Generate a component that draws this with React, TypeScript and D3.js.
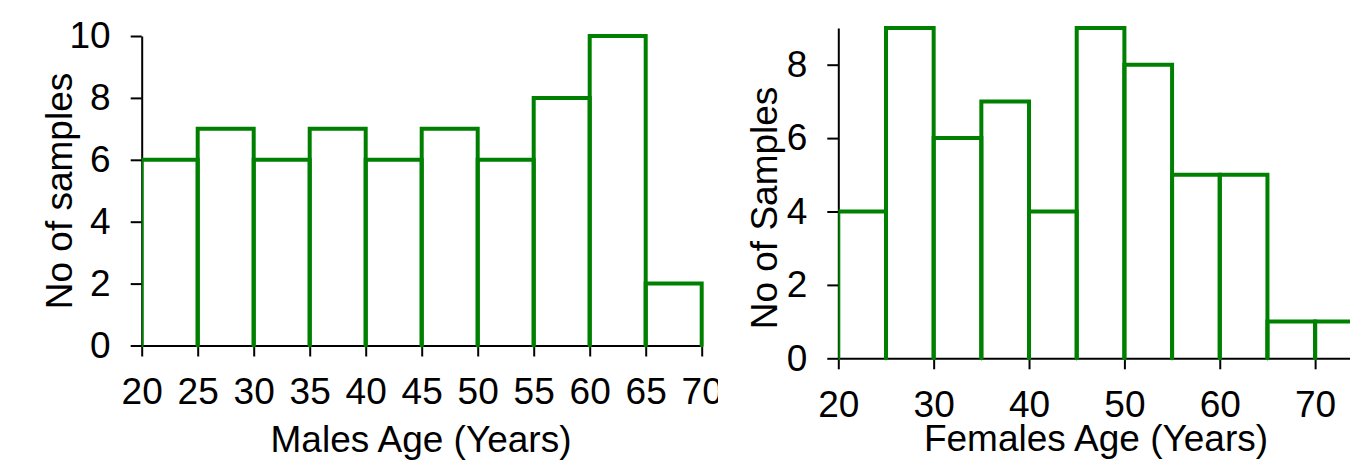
import React, { useEffect, useRef } from 'react';
import * as d3 from 'd3';

// Males histogram
const maleEdges = [20, 25, 30, 35, 40, 45, 50, 55, 60, 65, 70];
const maleCounts = [6, 7, 6, 7, 6, 7, 6, 8, 10, 2];
const maleXTicks = [20, 25, 30, 35, 40, 45, 50, 55, 60, 65, 70];
const maleYTicks = [0, 2, 4, 6, 8, 10];

// Females histogram
const femaleEdges = [20, 25, 30, 35, 40, 45, 50, 55, 60, 65, 70, 75];
const femaleCounts = [4, 9, 6, 7, 4, 9, 8, 5, 5, 1, 1];
const femaleXTicks = [20, 30, 40, 50, 60, 70];
const femaleYTicks = [0, 2, 4, 6, 8];

const WIDTH = 1350;
const HEIGHT = 460;
const FONT = '"Liberation Sans", Arial, sans-serif';
const GREEN = '#008000';

interface PanelSpec {
  id: string;
  edges: number[];
  counts: number[];
  xDomain: [number, number];
  xRange: [number, number];
  yDomain: [number, number];
  yRange: [number, number];
  xTicks: number[];
  yTicks: number[];
  xLabel: string;
  xLabelPos: [number, number];
  yLabel: string;
  yLabelPos: [number, number];
  clipRight: number;
}

const App: React.FC = () => {
  const svgRef = useRef<SVGSVGElement>(null);

  useEffect(() => {
    if (!svgRef.current) return;
    const svg = d3.select(svgRef.current);
    svg.selectAll('*').remove();
    const defs = svg.append('defs');

    const panels: PanelSpec[] = [
      {
        id: 'male',
        edges: maleEdges,
        counts: maleCounts,
        xDomain: [20, 70],
        xRange: [141.7, 701.7],
        yDomain: [0, 10],
        yRange: [345.5, 36],
        xTicks: maleXTicks,
        yTicks: maleYTicks,
        xLabel: 'Males Age (Years)',
        xLabelPos: [421, 452],
        yLabel: 'No of samples',
        yLabelPos: [72, 191],
        clipRight: 718,
      },
      {
        id: 'female',
        edges: femaleEdges,
        counts: femaleCounts,
        xDomain: [20, 75],
        xRange: [838.3, 1362.8],
        yDomain: [0, 9],
        yRange: [358.3, 28],
        xTicks: femaleXTicks,
        yTicks: femaleYTicks,
        xLabel: 'Females Age (Years)',
        xLabelPos: [1096, 451],
        yLabel: 'No of Samples',
        yLabelPos: [777, 208],
        clipRight: WIDTH,
      },
    ];

    panels.forEach(p => {
      const x = d3.scaleLinear().domain(p.xDomain).range(p.xRange);
      const y = d3.scaleLinear().domain(p.yDomain).range(p.yRange);
      const left = p.xRange[0];

      defs.append('clipPath').attr('id', `panel-${p.id}`)
        .append('rect').attr('x', 0).attr('y', 0)
        .attr('width', p.clipRight).attr('height', HEIGHT);
      defs.append('clipPath').attr('id', `bars-${p.id}`)
        .append('rect').attr('x', left).attr('y', 0)
        .attr('width', WIDTH).attr('height', HEIGHT);

      const g = svg.append('g').attr('clip-path', `url(#panel-${p.id})`);

      // Axes
      const xAxis = g.append('g')
        .attr('transform', `translate(0,${p.yRange[0]})`)
        .call(d3.axisBottom(x).tickValues(p.xTicks).tickFormat(d3.format('d'))
          .tickSize(11).tickSizeOuter(0).tickPadding(21));
      const yAxis = g.append('g')
        .attr('transform', `translate(${left},0)`)
        .call(d3.axisLeft(y).tickValues(p.yTicks).tickFormat(d3.format('d'))
          .tickSize(11).tickSizeOuter(0).tickPadding(20));

      [xAxis, yAxis].forEach(a => {
        a.select('.domain').attr('stroke', '#000').attr('stroke-width', 2);
        a.selectAll('.tick line').attr('stroke', '#000').attr('stroke-width', 2);
        a.selectAll('.tick text')
          .attr('fill', '#000')
          .style('font-family', FONT)
          .style('font-size', '37px');
      });

      // Histogram outlines
      const bars = g.append('g').attr('clip-path', `url(#bars-${p.id})`);
      bars.selectAll('path')
        .data(p.counts)
        .enter()
        .append('path')
        .attr('d', (c, i) => {
          const x0 = x(p.edges[i]);
          const x1 = x(p.edges[i + 1]);
          return `M${x0},${y(0)}V${y(c)}H${x1}V${y(0)}`;
        })
        .attr('fill', 'none')
        .attr('stroke', GREEN)
        .attr('stroke-width', 4)
        .attr('stroke-linecap', 'round');

      // Axis labels
      g.append('text')
        .attr('x', p.xLabelPos[0])
        .attr('y', p.xLabelPos[1])
        .attr('text-anchor', 'middle')
        .style('font-family', FONT)
        .style('font-size', '37px')
        .text(p.xLabel);

      g.append('text')
        .attr('transform', `translate(${p.yLabelPos[0]},${p.yLabelPos[1]}) rotate(-90)`)
        .attr('text-anchor', 'middle')
        .style('font-family', FONT)
        .style('font-size', '37px')
        .text(p.yLabel);
    });
  }, []);

  return (
    <svg
      ref={svgRef}
      width={WIDTH}
      height={HEIGHT}
      style={{ position: 'absolute', left: 0, top: 0, background: '#fff' }}
    />
  );
};

export default App;
